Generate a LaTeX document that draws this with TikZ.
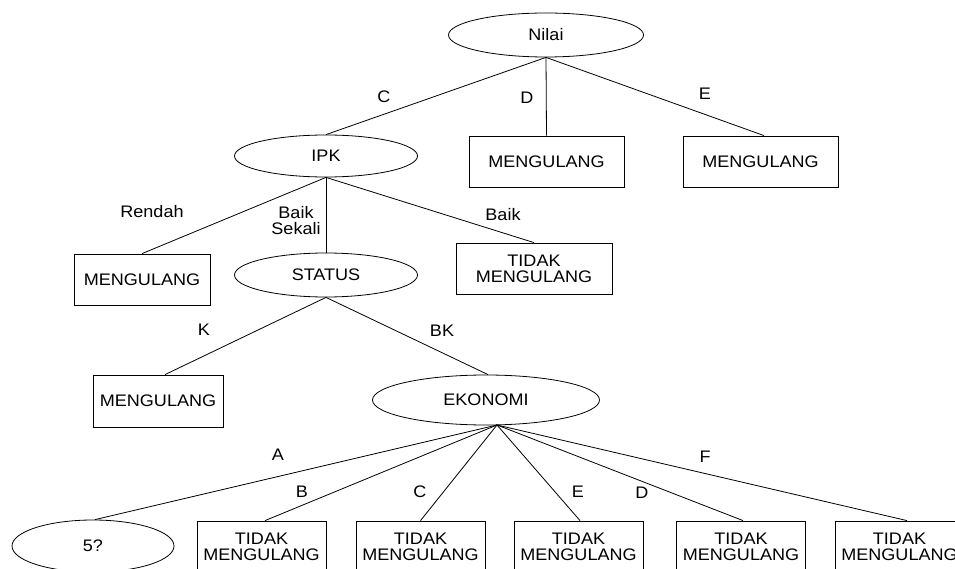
\documentclass[tikz,border=0pt]{standalone}
\usepackage{fontspec}
\setmainfont{Liberation Sans}[FakeStretch=1.08]
\usetikzlibrary{shapes.geometric}
\begin{document}
\begin{tikzpicture}[x=1pt,y=-1pt,line width=0.8pt,
  every node/.style={font=\fontsize{16.7}{16}\selectfont},
  ell/.style={draw,ellipse,inner sep=0pt},
  box/.style={draw,rectangle,inner sep=0pt,align=center},
  lbl/.style={inner sep=0pt,align=center},
  bot/.style={box,minimum width=129,minimum height=52}]
\useasboundingbox (0,0) rectangle (955,569);
\begin{scope}
\clip (0,0) rectangle (955,569);
% nodes
\node[ell,minimum width=195,minimum height=44] (nilai) at (546,35) {Nilai};
\node[ell,minimum width=183,minimum height=42] (ipk) at (326,156) {IPK};
\node[box,minimum width=155,minimum height=51] (md) at (546.5,161.5) {MENGULANG};
\node[box,minimum width=155,minimum height=51] (me) at (760.5,161.5) {MENGULANG};
\node[box,minimum width=136,minimum height=51] (mr) at (142,279.5) {MENGULANG};
\node[ell,minimum width=183,minimum height=44] (status) at (326,275) {STATUS};
\node[box,minimum width=156,minimum height=51] (tm) at (534,268.5) {TIDAK\\MENGULANG};
\node[box,minimum width=130,minimum height=52] (mk) at (158,401) {MENGULANG};
\node[ell,minimum width=227,minimum height=50] (eko) at (486,400) {EKONOMI};
\coordinate (ekob) at (497,425);
\node[ell,minimum width=162,minimum height=52] (q5) at (93,546) {5?};
\node[bot] (tb) at (261.5,547) {TIDAK\\MENGULANG};
\node[bot] (tc) at (420.5,547) {TIDAK\\MENGULANG};
\node[bot] (te) at (578.5,547) {TIDAK\\MENGULANG};
\node[bot] (td) at (741,547) {TIDAK\\MENGULANG};
\node[bot] (tf) at (899.5,547) {TIDAK\\MENGULANG};
% connectors
\draw (nilai.south) -- (ipk.north);
\draw (nilai.south) -- (md.north);
\draw (nilai.south) -- ([xshift=3.5pt]me.north);
\draw (ipk.south) -- (mr.north);
\draw (ipk.south) -- (status.north);
\draw (ipk.south) -- (tm.north);
\draw (status.south) -- ([xshift=7pt]mk.north);
\draw (status.south) -- ([xshift=2pt]eko.north);
\draw (ekob) -- ([xshift=2pt]q5.north);
\draw (ekob) -- ([xshift=3.5pt]tb.north);
\draw (ekob) -- (tc.north);
\draw (ekob) -- ([xshift=1.5pt]te.north);
\draw (ekob) -- ([xshift=2pt]td.north);
\draw (ekob) -- ([xshift=7.5pt]tf.north);
% labels
\node[lbl] (lc) at (384,97) {C};
\node[lbl] (ld) at (527,98) {D};
\node[lbl] (le) at (705,94) {E};
\node[lbl] (lr) at (152,212) {Rendah};
\node[lbl] (lbs) at (296,221) {Baik\\Sekali};
\node[lbl] (lb) at (503,215) {Baik};
\node[lbl] (lk) at (204,330) {K};
\node[lbl] (lbk) at (442,331) {BK};
\node[lbl] (la) at (278,455) {A};
\node[lbl] (lb2) at (302,492) {B};
\node[lbl] (lc2) at (420,492) {C};
\node[lbl] (le2) at (578,492) {E};
\node[lbl] (ld2) at (642,493) {D};
\node[lbl] (lf) at (705,457) {F};
\end{scope}
\end{tikzpicture}
\end{document}
